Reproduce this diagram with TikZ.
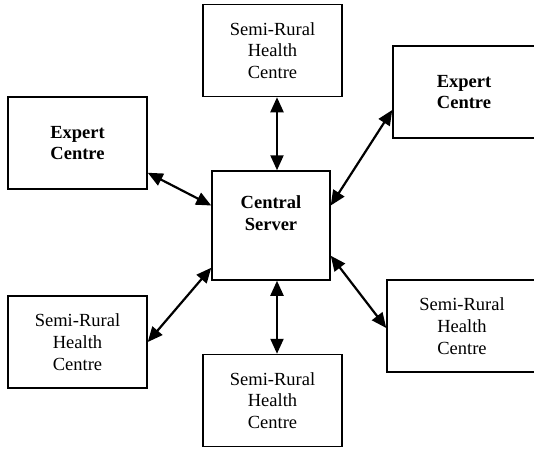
\documentclass[tikz,border=0pt]{standalone}
\usepackage{fontspec}
\setmainfont{Liberation Serif}
\usetikzlibrary{arrows.meta}

\tikzset{
  box/.style={draw, line width=1.5pt, minimum width=139pt, minimum height=92pt,
    inner sep=0pt, align=center, font=\fontsize{18.5}{21.7}\selectfont},
  bbox/.style={box, font=\fontsize{18.5}{21.7}\selectfont\bfseries},
  link/.style={line width=2.2pt, {Triangle[length=15pt,width=13pt]}-{Triangle[length=15pt,width=13pt]}}
}

\begin{document}
\begin{tikzpicture}[x=1pt,y=-1pt]
\useasboundingbox (0,0) rectangle (534,450);
\clip (0,0) rectangle (534,450);
\node[box] (topsem) at (272.5,50.5) {Semi-Rural\\Health\\Centre};
\node[bbox] (lexp) at (77.5,143) {Expert\\Centre};
\node[bbox, minimum width=142pt] (rexp) at (464,92) {Expert\\Centre};
\node[box, minimum width=118pt, minimum height=109pt] (server) at (271,225.5) {};
\node[font=\fontsize{18.5}{21.7}\selectfont\bfseries, align=center] (servertxt)
  at ([yshift=12pt]server.center) {Central\\Server};
\node[box] (lsem) at (77.5,342) {Semi-Rural\\Health\\Centre};
\node[box] (botsem) at (272.5,400.5) {Semi-Rural\\Health\\Centre};
\node[box, minimum width=150pt] (rsem) at (462,326) {Semi-Rural\\Health\\Centre};
%
\draw[link] ([xshift=6pt]server.north |- topsem.south) -- ([xshift=6pt]server.north);
\draw[link] ([yshift=17pt]lexp.south east) -- ([yshift=20pt]server.west);
\draw[link] ([yshift=-18pt]rexp.west) -- ([yshift=20pt]server.east);
\draw[link] ([yshift=13pt]server.south west) -- (lsem.east);
\draw[link] ([xshift=6pt]server.south) -- ([xshift=6pt]server.south |- botsem.north);
\draw[link] ([yshift=25pt]server.south east) -- ([yshift=-2pt]rsem.west);
\end{tikzpicture}
\end{document}
